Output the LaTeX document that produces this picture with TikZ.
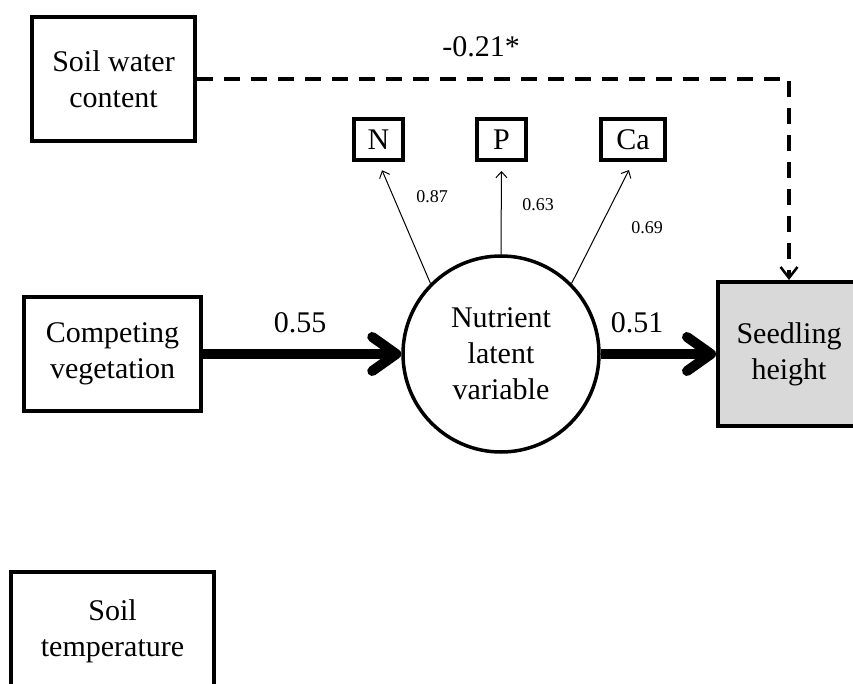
\documentclass[tikz,border=0pt]{standalone}
\usepackage{fontspec}
\setmainfont{Liberation Serif}
\usetikzlibrary{arrows.meta}
\definecolor{seedgray}{RGB}{217,217,217}
\begin{document}
\begin{tikzpicture}[x=1pt,y=-1pt,
  box/.style={draw, line width=4pt, align=center, inner sep=0pt, font=\fontsize{30}{36}\selectfont},
  ind/.style={draw, line width=4pt, inner sep=0pt, minimum height=41pt, font=\fontsize{30}{36}\selectfont},
  lbl/.style={font=\fontsize{30}{36}\selectfont, inner sep=0pt},
  slbl/.style={font=\fontsize{18}{20}\selectfont, inner sep=0pt},
  heavyarrow/.style={line width=10pt, -{Straight Barb[length=24pt,width=34pt,round]}},
  thinarrow/.style={line width=1pt, -{Straight Barb[length=6pt,width=11pt]}, shorten >=9pt},
  dasharrow/.style={line width=3.5pt, dash pattern=on 16pt off 11pt, -{Straight Barb[length=11pt,width=17pt,line width=2.5pt]}},
]
\useasboundingbox (0,0) rectangle (853,684);
\clip (0,0) rectangle (853,684);

\node[box, minimum width=163pt, minimum height=124pt] (swc) at (113.5,79) {Soil water\\content};
\node[box, minimum width=177pt, minimum height=114pt] (comp) at (112.5,354) {Competing\\vegetation};
\node[box, fill=seedgray, minimum width=142pt, minimum height=144pt] (seed) at (789,354) {Seedling\\height};
\node[box, minimum width=203pt, minimum height=118pt] (temp) at (112.5,631) {Soil\\temperature};
\node[draw, circle, line width=3.5pt, minimum size=196pt, inner sep=0pt, align=center, font=\fontsize{30}{36}\selectfont] (lat) at (501,354) {Nutrient\\latent\\variable};

\node[ind, minimum width=49pt] (N) at (378.5,139.5) {N};
\node[ind, minimum width=49pt] (P) at (501.5,139.5) {P};
\node[ind, minimum width=64pt] (Ca) at (633,139.5) {Ca};

\draw[thinarrow] (lat.135) -- (N.south);
\draw[thinarrow] (lat.north) -- (P.south);
\draw[thinarrow] (lat.45) -- (Ca.south);

\draw[heavyarrow] (comp.east) -- (lat.west);
\draw[heavyarrow] (lat.east) -- (seed.west);
\draw[dasharrow] (swc.east) -| (seed.north);

\node[lbl] (l055) at (300,323) {0.55};
\node[lbl] (l051) at (637,323) {0.51};
\node[lbl] (l021) at (481,47) {-0.21*};
\node[slbl] (l087) at (432,197) {0.87};
\node[slbl] (l063) at (538,205) {0.63};
\node[slbl] (l069) at (647,228) {0.69};
\end{tikzpicture}
\end{document}
